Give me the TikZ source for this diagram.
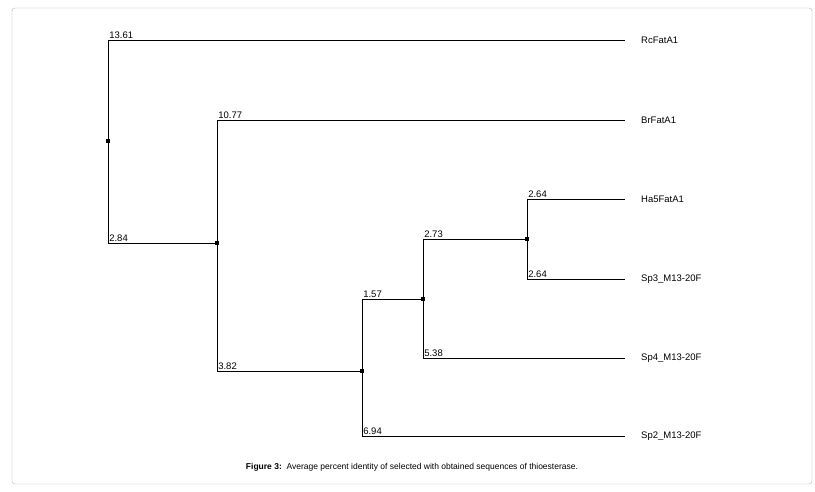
\documentclass[tikz,border=0pt]{standalone}
\usepackage{fontspec}
\setmainfont{Liberation Sans}
\usetikzlibrary{positioning}
\begin{document}
\begin{tikzpicture}[x=1pt,y=-1pt,font=\fontsize{9.5}{11}\selectfont]

    \tikzstyle{junction}=[fill=black, inner sep=0pt, minimum size=3.5pt, rectangle]
    \tikzstyle{leaf}=[anchor=west, inner sep=1pt]
    \tikzstyle{dist}=[anchor=south west, inner sep=1pt]
    \tikzstyle{branch}=[line width=0.6pt]

    \useasboundingbox (0,0) rectangle (815,492);
    \draw[gray!60, rounded corners=3] (12,8) rectangle (812,484);

    % Junctions
    \node at (108,141) [junction] (J1) {};
    \node at (217,243) [junction] (J2) {};
    \node at (362,371) [junction] (J3) {};
    \node at (423,299) [junction] (J4) {};
    \node at (527,239) [junction] (J5) {};

    % Leaf ends
    \coordinate (E1) at (625,40);
    \coordinate (E2) at (625,120);
    \coordinate (E3) at (625,199);
    \coordinate (E4) at (625,279);
    \coordinate (E5) at (625,358);
    \coordinate (E6) at (625,436);

    % Leaf labels
    \node at (640,40)  [leaf] (L1) {RcFatA1};
    \node at (640,120) [leaf] (L2) {BrFatA1};
    \node at (640,199) [leaf] (L3) {Ha5FatA1};
    \node at (640,279) [leaf] (L4) {Sp3\_M13-20F};
    \node at (640,358) [leaf] (L5) {Sp4\_M13-20F};
    \node at (640,436) [leaf] (L6) {Sp2\_M13-20F};

    % Branches
    \draw[branch] (J1.center) |- (E1) node[pos=0.5, dist] {13.61};
    \draw[branch] (J1.center) |- (J2.center) node[pos=0.5, dist] {2.84};
    \draw[branch] (J2.center) |- (E2) node[pos=0.5, dist] {10.77};
    \draw[branch] (J2.center) |- (J3.center) node[pos=0.5, dist] {3.82};
    \draw[branch] (J3.center) |- (J4.center) node[pos=0.5, dist] {1.57};
    \draw[branch] (J3.center) |- (E6) node[pos=0.5, dist] {6.94};
    \draw[branch] (J4.center) |- (J5.center) node[pos=0.5, dist] {2.73};
    \draw[branch] (J4.center) |- (E5) node[pos=0.5, dist] {5.38};
    \draw[branch] (J5.center) |- (E3) node[pos=0.5, dist] {2.64};
    \draw[branch] (J5.center) |- (E4) node[pos=0.5, dist] {2.64};

    % Caption
    \node at (412,467) (cap) {\fontsize{8.5}{10}\selectfont\textbf{Figure 3:}\ \ Average percent identity of selected with obtained sequences of thioesterase.};
\end{tikzpicture}
\end{document}
